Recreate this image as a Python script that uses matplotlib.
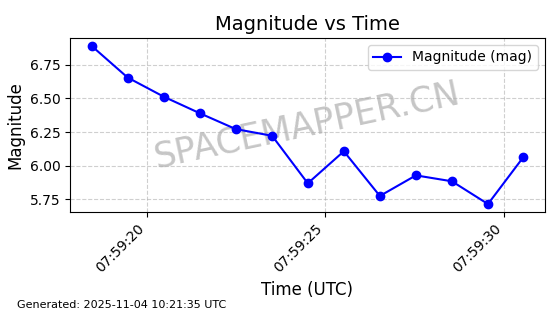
import numpy as np
import pandas as pd
import matplotlib
matplotlib.use("Agg")
import matplotlib.pyplot as plt
import matplotlib.dates as mdates

# seconds past 07:59:00 UTC
seconds = [18.45, 19.46, 20.47, 21.48, 22.49, 23.51, 24.51,
           25.52, 26.53, 27.54, 28.55, 29.56, 30.55]
magnitude = [6.89, 6.655, 6.513, 6.39, 6.272, 6.222, 5.869,
             6.107, 5.775, 5.928, 5.884, 5.715, 6.063]

times = pd.Timestamp("2025-11-04 07:59:00") + pd.to_timedelta(seconds, unit="s")

fig = plt.figure(figsize=(5.6, 3.14), dpi=100)
ax = fig.add_subplot(111)
fig.subplots_adjust(left=0.125, right=0.973, top=0.879, bottom=0.325)

ax.plot(times, magnitude, "o-", color="blue", markersize=6, label="Magnitude (mag)")

ax.set_title("Magnitude vs Time", fontsize=14)
ax.set_xlabel("Time (UTC)", fontsize=12)
ax.set_ylabel("Magnitude", fontsize=12)
ax.grid(True, linestyle="--", alpha=0.6)
ax.legend(loc="upper right")

ax.xaxis.set_major_locator(mdates.SecondLocator(bysecond=range(0, 60, 5)))
ax.xaxis.set_major_formatter(mdates.DateFormatter("%H:%M:%S"))
plt.setp(ax.get_xticklabels(), rotation=45, ha="right")

# watermark
ax.text(0.5, 0.5, "SPACEMAPPER.CN", transform=ax.transAxes, fontsize=25,
        color="gray", alpha=0.45, rotation=12, ha="center", va="center", zorder=0)

fig.text(0.03, 0.02, "Generated: 2025-11-04 10:21:35 UTC", fontsize=8)

fig.savefig("out.png", dpi=100)
